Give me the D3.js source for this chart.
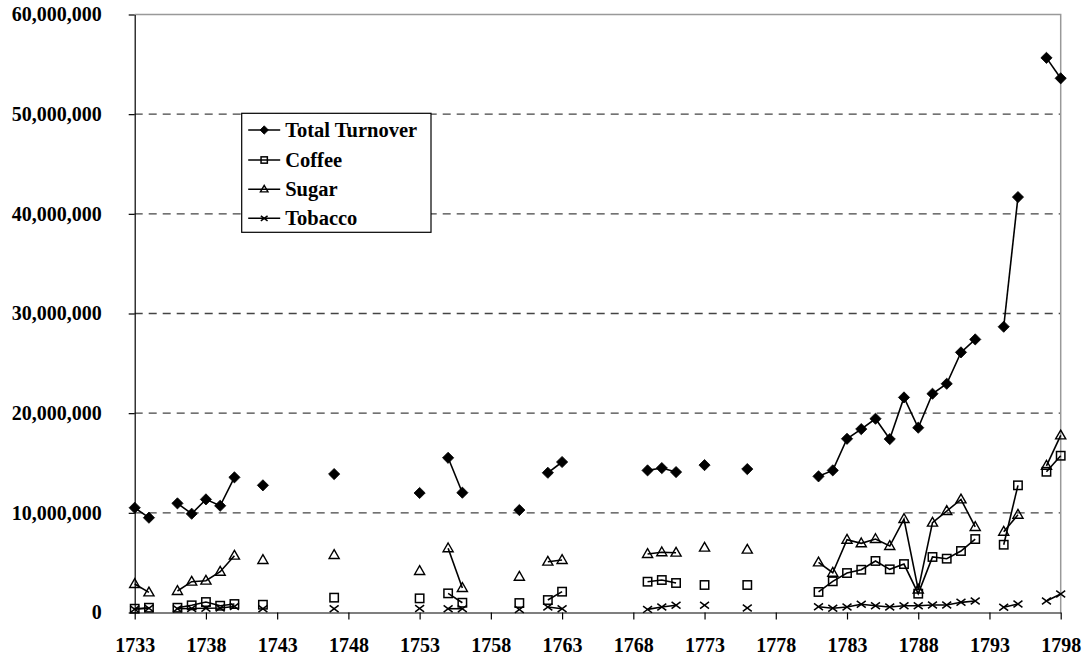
<!DOCTYPE html>
<meta charset="utf-8">
<style>
body { margin: 0; background: #fff; }
svg { display: block; }
.axis text { font-family: "Liberation Serif", "Times New Roman", serif; font-weight: bold; font-size: 20px; fill: #000; }
.axis path, .axis line { stroke: #000; stroke-width: 1.2; }
.grid line { stroke: #444; stroke-width: 1.3; stroke-dasharray: 8,6; }
.legend text { font-family: "Liberation Serif", "Times New Roman", serif; font-weight: bold; font-size: 20.5px; fill: #000; }
</style>
<svg width="1092" height="656"></svg>
<script src="https://d3js.org/d3.v7.min.js"></script>
<script>

// values in millions
var years = [1733,1734,1736,1737,1738,1739,1740,1742,1747,1753,1755,1756,1760,1762,1763,1769,1770,1771,1773,1776,
             1781,1782,1783,1784,1785,1786,1787,1788,1789,1790,1791,1792,1794,1795,1797,1798];
var total = [10.51,9.51,10.95,9.91,11.35,10.71,13.56,12.76,13.89,11.99,15.52,12.02,10.28,14.02,15.1,14.26,14.49,14.09,14.79,14.39,
             13.66,14.26,17.43,18.4,19.44,17.4,21.58,18.54,21.95,22.95,26.1,27.4,28.67,41.68,55.65,53.6];
var coffee = [0.38,0.48,0.48,0.72,1.05,0.68,0.85,0.78,1.49,1.42,1.92,0.98,0.95,1.25,2.09,3.09,3.26,2.96,2.76,2.76,
              2.06,3.13,3.96,4.29,5.17,4.33,4.86,1.89,5.57,5.4,6.17,7.37,6.8,12.76,14.12,15.73];
var sugar = [2.86,2.02,2.16,3.09,3.19,4.09,5.7,5.27,5.77,4.16,6.44,2.46,3.59,5.1,5.27,5.87,6.04,6.0,6.5,6.3,
             5.03,3.99,7.3,6.94,7.37,6.67,9.38,2.3,9.01,10.18,11.35,8.58,8.1,9.81,14.72,17.77];
var tobacco = [0.32,0.42,0.38,0.4,0.42,0.45,0.6,0.38,0.38,0.4,0.38,0.38,0.3,0.55,0.38,0.31,0.55,0.72,0.72,0.45,
               0.58,0.42,0.55,0.82,0.68,0.55,0.68,0.68,0.75,0.75,1.02,1.15,0.52,0.85,1.15,1.86];
var seriesNames = ["Total Turnover", "Coffee", "Sugar", "Tobacco"];
var xTicks = d3.range(1733, 1799, 5);
var yTicks = [0, 10000000, 20000000, 30000000, 40000000, 50000000, 60000000];

var svg = d3.select("svg"),
    margin = {top: 14.5, right: 31.3, bottom: 43.5, left: 134.7},
    width = +svg.attr("width") - margin.left - margin.right,
    height = +svg.attr("height") - margin.top - margin.bottom;

var x = d3.scaleLinear().domain([1733, 1798]).range([0, width]),
    y = d3.scaleLinear().domain([0, 60000000]).range([height, 0]);

var g = svg.append("g")
    .attr("transform", "translate(" + margin.left + "," + margin.top + ")");

// gridlines
g.append("g")
    .attr("class", "grid")
  .selectAll("line")
  .data(yTicks.filter(function(d) { return d > 0 && d < 60000000; }))
  .enter().append("line")
    .attr("x1", 0).attr("x2", width)
    .attr("y1", function(d) { return y(d); })
    .attr("y2", function(d) { return y(d); });

// top and right border
g.append("path")
    .attr("d", "M0," + y(60000000) + "H" + width + "V" + height)
    .attr("fill", "none")
    .attr("stroke", "#999")
    .attr("stroke-width", 1.5);

var fmt = d3.format(",");

g.append("g")
    .attr("class", "axis axis--y")
    .call(d3.axisLeft(y).tickValues(yTicks).tickFormat(fmt).tickSize(6).tickSizeOuter(0).tickPadding(27));

var xAxis = g.append("g")
    .attr("class", "axis axis--x")
    .attr("transform", "translate(0," + height + ")")
    .call(d3.axisBottom(x).tickValues(xTicks).tickFormat(d3.format("d")).tickSize(7).tickSizeOuter(0));
xAxis.selectAll("text").attr("y", 39.5).attr("dy", null);

// series data
var data = [total, coffee, sugar, tobacco].map(function(vals, i) {
  return {
    name: seriesNames[i],
    values: years.map(function(yr, j) { return {year: yr, value: vals[j] * 1e6}; })
  };
});

// split into runs of consecutive years
function runs(values) {
  var out = [], cur = [];
  values.forEach(function(d, i) {
    if (i > 0 && d.year - values[i - 1].year > 1) { out.push(cur); cur = []; }
    cur.push(d);
  });
  out.push(cur);
  return out.filter(function(r) { return r.length > 1; });
}

var line = d3.line()
    .x(function(d) { return x(d.year); })
    .y(function(d) { return y(d.value); });

function marker(sel, type, s) {
  if (type === 0) {
    sel.append("path").attr("d", "M0," + (-s) + "L" + s + ",0L0," + s + "L" + (-s) + ",0Z")
      .attr("fill", "#000").attr("stroke", "#000").attr("stroke-width", 0.8);
  } else if (type === 1) {
    var h = s * 0.75;
    sel.append("rect").attr("x", -h).attr("y", -h).attr("width", 2 * h).attr("height", 2 * h)
      .attr("fill", "none").attr("stroke", "#000").attr("stroke-width", 1.5);
  } else if (type === 2) {
    var r = s * 0.95;
    sel.append("path").attr("d", "M0," + (-r) + "L" + (r * 0.95) + "," + (r * 0.65) + "L" + (-r * 0.95) + "," + (r * 0.65) + "Z")
      .attr("fill", "none").attr("stroke", "#000").attr("stroke-width", 1.4);
  } else {
    var c = s * 0.8;
    sel.append("path").attr("d", "M" + (-c) + "," + (-c * 0.75) + "L" + c + "," + (c * 0.75) + "M" + (-c) + "," + (c * 0.75) + "L" + c + "," + (-c * 0.75))
      .attr("fill", "none").attr("stroke", "#000").attr("stroke-width", 1.5);
  }
}

data.forEach(function(s, i) {
  var sg = g.append("g").attr("class", "series");
  sg.selectAll(".run")
    .data(runs(s.values))
    .enter().append("path")
      .attr("class", "run")
      .attr("fill", "none")
      .attr("stroke", "#000")
      .attr("stroke-width", 1.6)
      .attr("d", line);
  sg.selectAll(".pt")
    .data(s.values)
    .enter().append("g")
      .attr("class", "pt")
      .attr("transform", function(d) { return "translate(" + x(d.year) + "," + y(d.value) + ")"; })
      .each(function() { marker(d3.select(this), i, 5.6); });
});

// legend
var legend = svg.append("g")
    .attr("class", "legend")
    .attr("transform", "translate(241.7,113.3)");

legend.append("rect")
    .attr("width", 189.3)
    .attr("height", 119)
    .attr("fill", "#fff")
    .attr("stroke", "#000")
    .attr("stroke-width", 1.2);

var rowY = [16.7, 46.7, 76, 105];
seriesNames.forEach(function(name, i) {
  var row = legend.append("g").attr("transform", "translate(0," + rowY[i] + ")");
  row.append("line").attr("x1", 6.5).attr("x2", 38.5).attr("y1", 0).attr("y2", 0)
    .attr("stroke", "#000").attr("stroke-width", 1.5);
  var m = row.append("g").attr("transform", "translate(22.5,0)");
  marker(m, i, 4.2);
  row.append("text")
    .attr("x", 43.5)
    .attr("dy", "0.34em")
    .text(name);
});

</script>
